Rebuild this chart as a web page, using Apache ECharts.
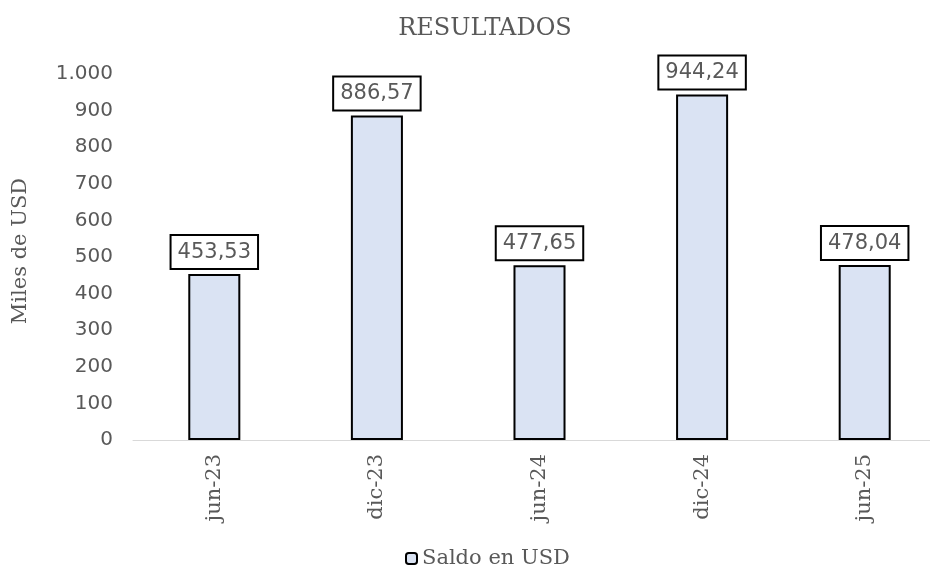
<!DOCTYPE html>
<html>
<head>
<meta charset="utf-8">
<script src="https://cdn.jsdelivr.net/npm/echarts@6/dist/echarts.min.js"></script>
<style>
  html, body { margin: 0; padding: 0; background: #fff; }
  #chart { width: 930px; height: 570px; }
</style>
</head>
<body>
<div id="chart"></div>
<script>
// datos del gráfico
var categorias = ['jun-23', 'dic-23', 'jun-24', 'dic-24', 'jun-25']
var saldo = [453.53, 886.57, 477.65, 944.24, 478.04]
var serieNombre = 'Saldo en USD'

var serif = '"DejaVu Serif", "Liberation Serif", serif'
var sans = '"DejaVu Sans", Verdana, sans-serif'
var gris = '#595959'

var myChart = echarts.init(document.getElementById('chart'))
myChart.setOption({
  animation: false,
  title: {
    text: 'RESULTADOS',
    left: 480,
    textAlign: 'center',
    top: 12,
    textStyle: { fontFamily: serif, fontSize: 24, fontWeight: 'normal', color: gris }
  },
  legend: {
    bottom: -4,
    left: 400,
    itemWidth: 11,
    itemHeight: 11,
    itemGap: 4,
    textStyle: { fontFamily: serif, fontSize: 21, color: gris },
    data: [serieNombre]
  },
  grid: {
    left: 133,
    top: 74,
    width: 813,
    height: 366,
    outerBoundsMode: 'none'
  },
  xAxis: {
    type: 'category',
    data: categorias,
    axisLine: { lineStyle: { color: '#d9d9d9', width: 1 } },
    axisTick: { show: false },
    axisLabel: {
      rotate: 90,
      margin: 14,
      fontFamily: serif,
      fontSize: 21,
      color: gris
    }
  },
  yAxis: {
    type: 'value',
    min: 0,
    max: 1000,
    interval: 100,
    name: 'Miles de USD',
    nameLocation: 'middle',
    nameGap: 102,
    nameTextStyle: { fontFamily: serif, fontSize: 21, color: gris, padding: [0, 0, 0, 12] },
    splitLine: { show: false },
    axisLine: { show: false },
    axisTick: { show: false },
    axisLabel: {
      margin: 20,
      fontFamily: sans,
      fontSize: 20,
      color: gris,
      formatter: function (v) {
        return String(v).replace(/\B(?=(\d{3})+(?!\d))/g, '.')
      }
    }
  },
  series: [{
    name: serieNombre,
    type: 'bar',
    barWidth: '32%',
    data: saldo,
    itemStyle: { color: '#dae3f3', borderColor: '#000', borderWidth: 2 },
    label: {
      show: true,
      position: 'top',
      distance: 6,
      fontFamily: sans,
      fontSize: 21,
      color: gris,
      backgroundColor: '#fff',
      borderColor: '#000',
      borderWidth: 2,
      padding: [6, 6, 5, 6],
      formatter: function (p) {
        return p.value.toFixed(2).replace('.', ',')
      }
    }
  }]
})
</script>
</body>
</html>
